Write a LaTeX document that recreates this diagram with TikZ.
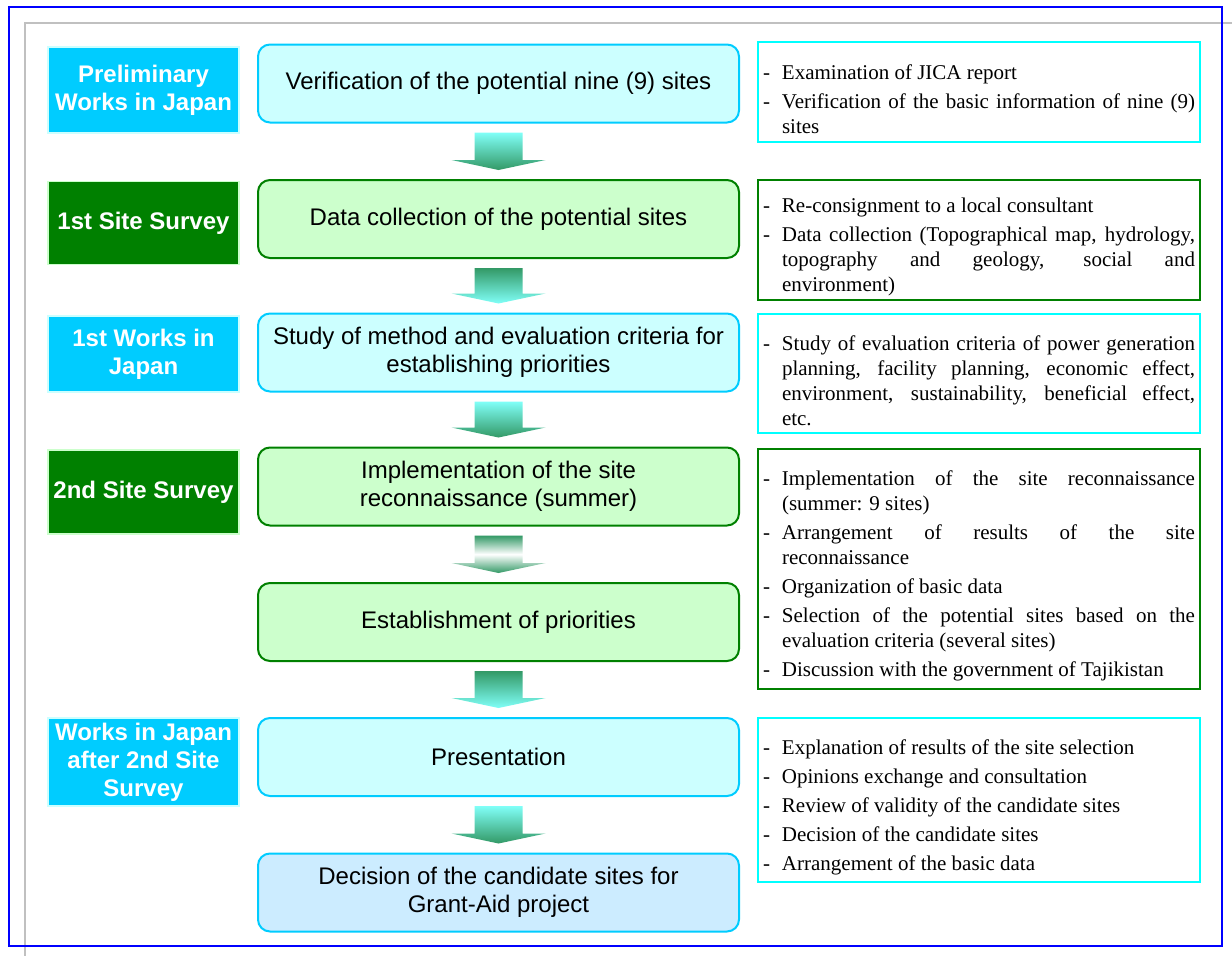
\documentclass[tikz,border=0pt]{standalone}
\usepackage{fontspec}
\setmainfont{Liberation Serif}
\setsansfont{Liberation Sans}
\usetikzlibrary{calc}
\definecolor{jpblue}{HTML}{00CCFF}
\definecolor{sitegreen}{HTML}{008000}
\definecolor{palecyan}{HTML}{CCFFFF}
\definecolor{palegreen}{HTML}{CCFFCC}
\definecolor{palesky}{HTML}{CCECFF}
\definecolor{notecyan}{HTML}{00FFFF}
\definecolor{arrowaqua}{HTML}{80FFF8}
\definecolor{arrowsea}{HTML}{339966}
\definecolor{framegray}{HTML}{C0C0C0}
\tikzset{
  stagebox/.style={
    rectangle,
    fill=#1,
    line width=1.5pt,
    minimum width=191pt,
    text=white,
    align=center,
    font=\sffamily\bfseries\fontsize{24}{28}\selectfont
  },
  stagejp/.style={stagebox=jpblue, draw=palecyan},
  stagesite/.style={stagebox=sitegreen, draw=palegreen},
  taskbox/.style={
    rectangle,
    rounded corners=12pt,
    line width=2pt,
    minimum width=481pt,
    minimum height=78pt,
    align=center,
    font=\sffamily\fontsize{24}{27.6}\selectfont
  },
  taskjp/.style={taskbox, draw=jpblue, fill=palecyan},
  tasksite/.style={taskbox, draw=sitegreen, fill=palegreen},
  taskend/.style={taskbox, draw=jpblue, fill=palesky},
  notebox/.style={
    rectangle,
    draw=#1,
    line width=2pt,
    text width=432pt,
    inner xsep=5pt,
    align=justify,
    font=\fontsize{21}{25}\selectfont,
    execute at begin node={\setlength{\parskip}{4pt}\setlength{\parindent}{0pt}\hyphenpenalty=10000\tolerance=10000}
  },
  flowaqua/.style={top color=arrowaqua, bottom color=arrowsea},
  flowsea/.style={top color=arrowsea, bottom color=arrowaqua},
  flowfade/.style={top color=arrowsea, bottom color=arrowsea, middle color=white}
}
\newcommand\noteitem[1]{\par\hangindent=19pt\hangafter=1\noindent\makebox[19pt][l]{-}#1\par}
\newcommand\flowarrow[3]{\shade[#3] ($(#1.south)+(-24,9)$) -- ($(#1.south)+(24,9)$) -- ($(#2.north)+(24,-19)$) -- ($(#2.north)+(47,-19)$) -- ($(#2.north)+(0,-9)$) -- ($(#2.north)+(-47,-19)$) -- ($(#2.north)+(-24,-19)$) -- cycle;}

\begin{document}
\begin{tikzpicture}[x=1pt, y=-1pt]
    \useasboundingbox (0,0) rectangle (1232,956);
    \draw[framegray, line width=2pt] (25,970) -- (25,23) -- (1245,23);
    \draw[blue, line width=2pt] (9,7) rectangle (1222,946);

    \node[stagejp, minimum height=86pt] (s1) at (143.5,90) {Preliminary\\Works in Japan};
    \node[stagesite, minimum height=83pt] (s2) at (143.5,223) {1st Site Survey};
    \node[stagejp, minimum height=76pt] (s3) at (143.5,354) {1st Works in\\Japan};
    \node[stagesite, minimum height=84pt] (s4) at (143.5,492) {2nd Site Survey};
    \node[stagejp, minimum height=88pt] (s5) at (143.5,762) {Works in Japan\\after 2nd Site\\Survey};

    \node[taskjp] (t1) at (498.5,83.5) {Verification of the potential nine (9) sites};
    \node[tasksite] (t2) at (498.5,219) {Data collection of the potential sites};
    \node[taskjp] (t3) at (498.5,352.5) {Study of method and evaluation criteria for\\establishing priorities};
    \node[tasksite] (t4) at (498.5,486.5) {Implementation of the site\\reconnaissance (summer)};
    \node[tasksite] (t5) at (498.5,622) {Establishment of priorities};
    \node[taskjp] (t6) at (498.5,757) {Presentation};
    \node[taskend] (t7) at (498.5,892.5) {Decision of the candidate sites for\\Grant-Aid project};

    \flowarrow{t1}{t2}{flowaqua}
    \flowarrow{t2}{t3}{flowsea}
    \flowarrow{t3}{t4}{flowaqua}
    \flowarrow{t4}{t5}{flowfade}
    \flowarrow{t5}{t6}{flowsea}
    \flowarrow{t6}{t7}{flowaqua}

    \node[notebox=notecyan, minimum height=100pt] (n1) at (979,92) {%
      \noteitem{Examination of JICA report}
      \noteitem{Verification of the basic information of nine (9)\linebreak sites}};
    \node[notebox=sitegreen, minimum height=118pt] (n2) at (979,240) {%
      \noteitem{Re-consignment to a local consultant}
      \noteitem{Data collection (Topographical map, hydrology,\linebreak topography and geology, social and\linebreak environment)}};
    \node[notebox=notecyan, minimum height=119pt] (n3) at (979,373.5) {%
      \noteitem{Study of evaluation criteria of power generation\linebreak planning, facility planning, economic effect,\linebreak environment, sustainability, beneficial effect,\linebreak etc.}};
    \node[notebox=sitegreen, minimum height=240pt] (n4) at (979,569) {%
      \noteitem{Implementation of the site reconnaissance\linebreak (summer: 9 sites)}
      \noteitem{Arrangement of results of the site\linebreak reconnaissance}
      \noteitem{Organization of basic data}
      \noteitem{Selection of the potential sites based on the\linebreak evaluation criteria (several sites)}
      \noteitem{Discussion with the government of Tajikistan}};
    \node[notebox=notecyan, minimum height=164pt] (n5) at (979,800) {%
      \noteitem{Explanation of results of the site selection}
      \noteitem{Opinions exchange and consultation}
      \noteitem{Review of validity of the candidate sites}
      \noteitem{Decision of the candidate sites}
      \noteitem{Arrangement of the basic data}};
\end{tikzpicture}
\end{document}
